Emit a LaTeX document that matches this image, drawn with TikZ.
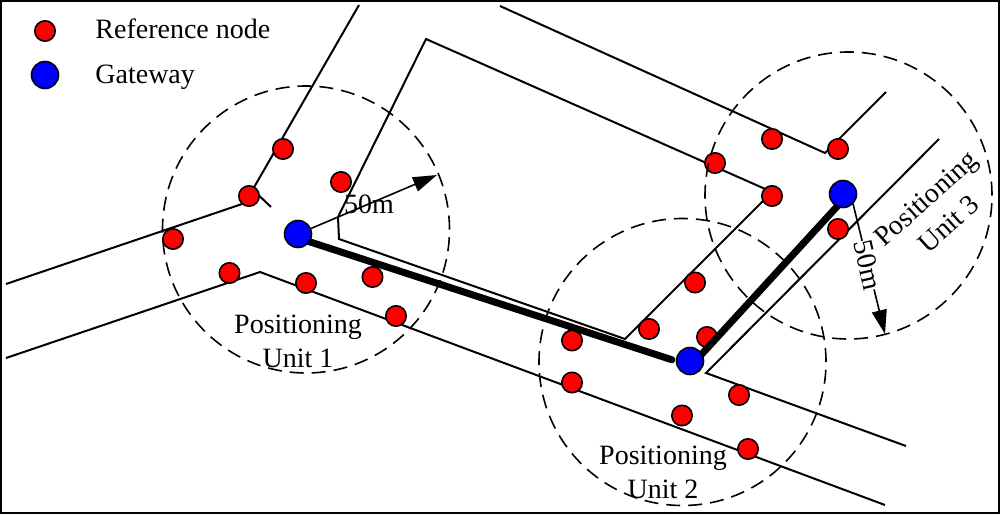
\documentclass[tikz,border=0pt]{standalone}
\usepackage{fontspec}
\setmainfont{Liberation Serif}
\usetikzlibrary{arrows.meta, backgrounds}

\begin{document}
\begin{tikzpicture}[
  x=0.5pt, y=-0.5pt,
  road/.style={line width=1pt, line join=miter},
  refnode/.style={circle, draw, line width=0.8pt, fill=red, inner sep=0pt, minimum size=10.2pt},
  gateway/.style={circle, draw, line width=0.8pt, fill=blue, inner sep=0pt, minimum size=13.5pt},
  rangecircle/.style={circle, draw, line width=0.8pt, dash pattern=on 7pt off 4pt, inner sep=0pt, minimum size=143.5pt},
  backhaul/.style={line width=3.5pt},
  radius/.style={-{Triangle[length=12pt, width=7.5pt]}, line width=0.8pt},
  txt/.style={font=\fontsize{14}{17}\selectfont, align=center, inner sep=0pt}
]
  \useasboundingbox (0,0) rectangle (1000,514);

  \begin{scope}[on background layer]
    \draw[line width=1pt] (1,1) rectangle (999,513);
    % roads
    \draw[road] (6,284) -- (245,203) -- (359,5);
    \draw[road] (249,186) -- (271,207);
    \draw[road] (6,358) -- (260,272) -- (885,505);
    \draw[road] (426,39) -- (338,217) -- (339,239) -- (625,339) -- (772,192) -- cycle;
    \draw[road] (500,6) -- (825,153) -- (886,92);
    \draw[road] (939,139) -- (706,373) -- (906,446);
    % reference nodes
    \node[refnode] (legendref) at (45,31) {};
    \node[refnode] (r1) at (283,149) {};
    \node[refnode] (r2) at (341,182) {};
    \node[refnode] (r3) at (249,196) {};
    \node[refnode] (r4) at (173,239) {};
    \node[refnode] (r5) at (229.5,273) {};
    \node[refnode] (r6) at (306,283) {};
    \node[refnode] (r7) at (372.5,277) {};
    \node[refnode] (r8) at (396,316) {};
    \node[refnode] (r9) at (572,340.5) {};
    \node[refnode] (r10) at (572,382.5) {};
    \node[refnode] (r11) at (649,329) {};
    \node[refnode] (r12) at (695,282.5) {};
    \node[refnode] (r13) at (707,337) {};
    \node[refnode] (r14) at (682,415.5) {};
    \node[refnode] (r15) at (739,395) {};
    \node[refnode] (r16) at (748,449) {};
    \node[refnode] (r17) at (715,163) {};
    \node[refnode] (r18) at (772,139) {};
    \node[refnode] (r19) at (838,149) {};
    \node[refnode] (r20) at (772,196) {};
    \node[refnode] (r21) at (838,229) {};
    % coverage of each unit
    \node[rangecircle] (unitone) at (306,229.5) {};
    \node[rangecircle] (unittwo) at (682.5,362) {};
    \node[rangecircle] (unitthree) at (848.5,195.5) {};
  \end{scope}

  \node[gateway] (legendgw) at (45,75) {};
  \node[gateway] (gwone) at (298,234) {};
  \node[gateway] (gwtwo) at (690,361) {};
  \node[gateway] (gwthree) at (843,194) {};

  \begin{scope}[on background layer]
    \draw[backhaul, line cap=round, shorten >=2pt] ([yshift=-2pt]gwone.center) -- (gwtwo.west);
    \draw[backhaul] ([yshift=-3pt]gwtwo.center) -- ([yshift=-3pt]gwthree.center);
  \end{scope}

  \coordinate (tipone) at (437,175);
  \coordinate (tipthree) at (885,334);
  \draw[radius] (gwone) -- (tipone);
  \draw[radius] (gwthree.-45) -- node[pos=0.47, txt, fill=white, rotate=-77, inner ysep=1pt] (lblthree) {50m} (tipthree);

  \node[txt, anchor=base west] (legendreftxt) at (95,38) {Reference node};
  \node[txt, anchor=base west] (legendgwtxt) at (95,83) {Gateway};
  \node[txt] (lblone) at (369,204) {50m};
  \node[txt] (nameone) at (298,341) {Positioning\\Unit 1};
  \node[txt] (nametwo) at (663,472) {Positioning\\Unit 2};
  \node[txt, rotate=42] (namethree) at (937,211) {Positioning\\Unit 3};
\end{tikzpicture}
\end{document}
